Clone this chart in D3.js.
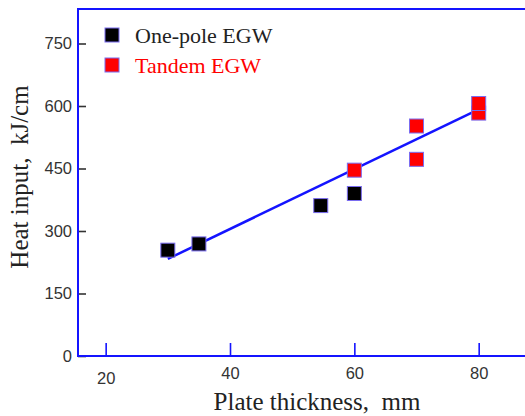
<!DOCTYPE html>
<html lang="en">
<head>
<meta charset="UTF-8">
<title>Heat input vs plate thickness</title>
<script src="https://cdn.jsdelivr.net/npm/d3@7"></script>
<style>
  body { margin: 0; background: #fff; }
  svg { display: block; }
</style>
</head>
<body>
<div id="chart"></div>
<script>
// data
const onePoleX = [30, 35, 54.6, 60];
const onePoleY = [254, 269, 361, 390];
const tandemX = [60, 70, 70, 80, 80];
const tandemY = [446, 552, 472, 583, 606];
const fitX = [30, 80];
const fitY = [233, 592];
const xTicks = [20, 40, 60, 80];
const yTicks = [0, 150, 300, 450, 600, 750];
const legendNames = ["One-pole EGW", "Tandem EGW"];

const W = 525, H = 416;
const mLeft = 78, mTop = 9, mBottom = 356, mRight = 525;
const blue = "#1414ff";
const sans = "Arial, 'Liberation Sans', sans-serif";
const serif = "'Liberation Serif', 'Times New Roman', serif";

const svg = d3.select("#chart").append("svg").attr("width", W).attr("height", H);

const x = d3.scaleLinear().domain([15.55, 87.45]).range([mLeft, mRight]);
const y = d3.scaleLinear().domain([0, 832.8]).range([mBottom, mTop]);

// frame: top line
svg.append("line").attr("x1", mLeft).attr("x2", mRight).attr("y1", mTop).attr("y2", mTop)
  .attr("stroke", blue).attr("stroke-width", 2);

// y axis
const yAxis = svg.append("g").attr("transform", `translate(${mLeft},0)`)
  .call(d3.axisRight(y).tickValues(yTicks).tickSize(8).tickSizeOuter(0));
yAxis.select(".domain").remove();
yAxis.selectAll(".tick line").attr("stroke", "#333").attr("stroke-width", 1.6);
yAxis.selectAll(".tick text").attr("x", -6).attr("text-anchor", "end")
  .attr("font-family", sans).attr("font-size", 16.5).attr("fill", "#333");
svg.append("line").attr("x1", mLeft).attr("x2", mLeft).attr("y1", mTop - 1).attr("y2", mBottom + 1)
  .attr("stroke", blue).attr("stroke-width", 2);

// x axis
const xAxis = svg.append("g").attr("transform", `translate(0,${mBottom})`)
  .call(d3.axisTop(x).tickValues(xTicks).tickSize(13).tickSizeOuter(0));
xAxis.select(".domain").remove();
xAxis.selectAll(".tick line").attr("stroke", blue).attr("stroke-width", 1.6);
xAxis.selectAll(".tick text").attr("y", d => d === 20 ? 28 : 23).attr("dy", 0)
  .attr("font-family", sans).attr("font-size", 16.5).attr("fill", "#333");
svg.append("line").attr("x1", mLeft - 1).attr("x2", mRight).attr("y1", mBottom).attr("y2", mBottom)
  .attr("stroke", blue).attr("stroke-width", 2);

// fit line
svg.append("path")
  .datum(fitX.map((v, i) => [v, fitY[i]]))
  .attr("d", d3.line().x(d => x(d[0])).y(d => y(d[1])))
  .attr("fill", "none").attr("stroke", blue).attr("stroke-width", 2.5);

// markers
const sq = 14;
function drawSquares(xs, ys, fill) {
  svg.append("g").selectAll("rect")
    .data(xs.map((v, i) => [v, ys[i]]))
    .join("rect")
    .attr("x", d => x(d[0]) - sq / 2)
    .attr("y", d => y(d[1]) - sq / 2)
    .attr("width", sq).attr("height", sq)
    .attr("fill", fill).attr("stroke", "#7a6cf0").attr("stroke-width", 1);
}
drawSquares(onePoleX, onePoleY, "#000");
drawSquares(tandemX, tandemY, "#ff0000");

// legend
const legColors = ["#000", "#ff0000"];
const leg = svg.append("g").selectAll("g").data(legendNames).join("g")
  .attr("transform", (d, i) => `translate(105,${28 + i * 30})`);
leg.append("rect").attr("width", sq).attr("height", sq)
  .attr("fill", (d, i) => legColors[i]).attr("stroke", "#7a6cf0").attr("stroke-width", 1);
leg.append("text").attr("x", 30).attr("y", 15).text(d => d)
  .attr("font-family", serif).attr("font-size", 22)
  .attr("fill", (d, i) => i === 0 ? "#222" : "#ff0000");

// axis titles
svg.append("text").attr("x", 317).attr("y", 410).attr("text-anchor", "middle")
  .attr("font-family", serif).attr("font-size", 25)
  .attr("fill", "#222").attr("xml:space", "preserve").text("Plate thickness,  mm");
svg.append("text").attr("transform", "translate(28,177) rotate(-90)").attr("text-anchor", "middle")
  .attr("font-family", serif).attr("font-size", 25)
  .attr("fill", "#222").attr("xml:space", "preserve").text("Heat input,  kJ/cm");
</script>
</body>
</html>
